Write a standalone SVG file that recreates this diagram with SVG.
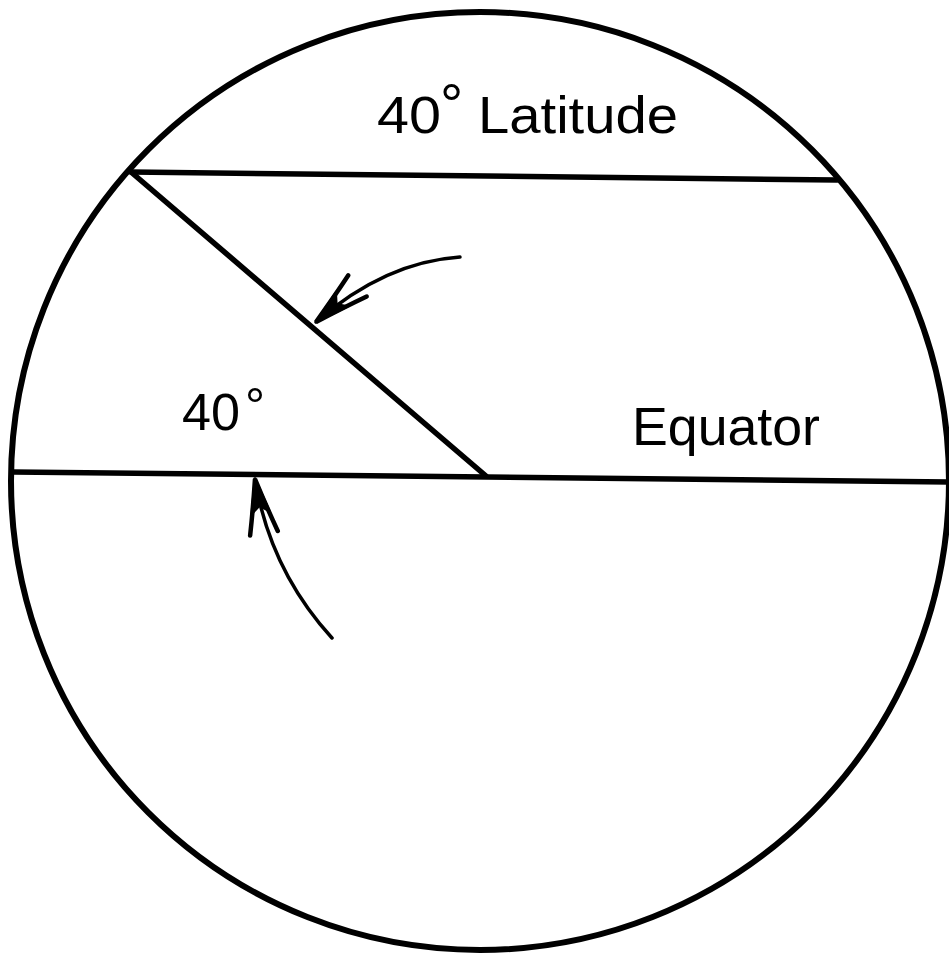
<svg xmlns="http://www.w3.org/2000/svg" width="949" height="957" viewBox="0 0 949 957">
  <style>
    .ln { fill: none; stroke: #000; stroke-linecap: round; stroke-linejoin: round; }
    .globe { stroke-width: 6; }
    .thick { stroke-width: 5.5; }
    .arr { stroke-width: 3.5; }
    .lbl { font-family: "Liberation Sans", Arial, sans-serif; fill: #000; }
  </style>
  <defs>
    <marker id="ah" markerUnits="userSpaceOnUse" markerWidth="80" markerHeight="40" viewBox="-70 -20 80 40" refX="0" refY="0" orient="auto" overflow="visible">
      <path d="M0,0 L-34,-9 L-27,0 L-34,9 Z" fill="#000" stroke="#000" stroke-width="2.5" stroke-linejoin="round"/>
      <path d="M-55,-14 Q-30,-7 0,0 Q-30,7 -55,14" fill="none" stroke="#000" stroke-width="4.5" stroke-linecap="round"/>
    </marker>
  </defs>
  <rect width="949" height="957" fill="#fff"/>
  <g id="earth">
    <circle class="ln globe" cx="480" cy="481" r="469"/>
  </g>
  <g id="latitude-line">
    <line class="ln thick" x1="131" y1="172" x2="837" y2="180"/>
  </g>
  <g id="equator-line">
    <line class="ln thick" x1="13" y1="472" x2="949" y2="482"/>
  </g>
  <g id="radius">
    <line class="ln thick" x1="131" y1="172" x2="486" y2="476"/>
  </g>
  <g id="connectors">
    <path class="ln arr" d="M460,257 Q385,262 316,322" marker-end="url(#ah)"/>
    <path class="ln arr" d="M332,638 Q270,570 255,479" marker-end="url(#ah)"/>
  </g>
  <g id="label-latitude">
    <text class="lbl" font-size="52"><tspan x="377" y="133" textLength="64" lengthAdjust="spacingAndGlyphs">40</tspan><tspan x="440" y="124" font-size="58">°</tspan><tspan x="478" y="133" textLength="200" lengthAdjust="spacingAndGlyphs">Latitude</tspan></text>
  </g>
  <g id="label-angle">
    <text class="lbl" font-size="52"><tspan x="182" y="430" textLength="58" lengthAdjust="spacingAndGlyphs">40</tspan><tspan x="245" y="423" font-size="50">°</tspan></text>
  </g>
  <g id="label-equator">
    <text class="lbl" font-size="54" x="632" y="445" textLength="188" lengthAdjust="spacingAndGlyphs">Equator</text>
  </g>
</svg>
